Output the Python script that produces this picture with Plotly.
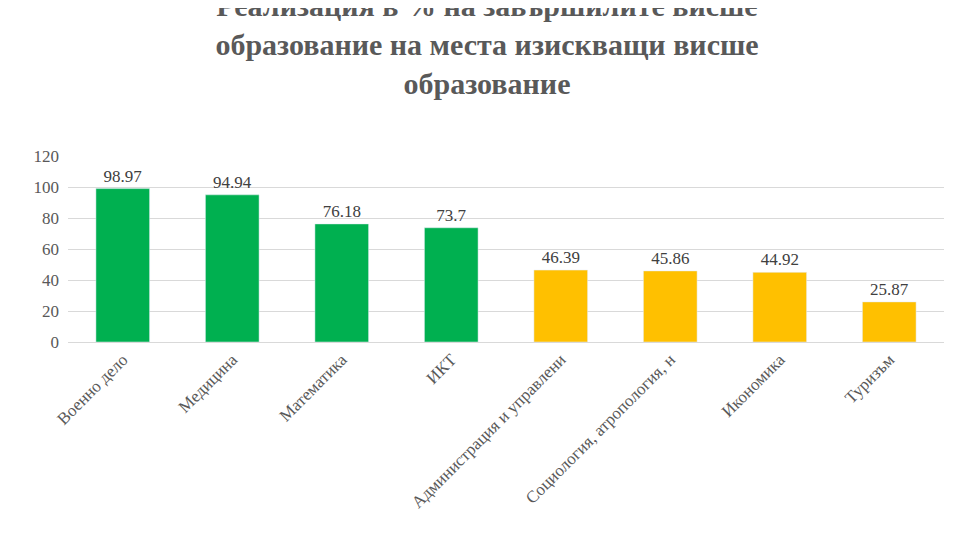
import plotly.graph_objects as go

categories = ["Военно дело", "Медицина", "Математика", "ИКТ",
              "Администрация и управлени", "Социология, атропология, н",
              "Икономика", "Туризъм"]
values = [98.97, 94.94, 76.18, 73.7, 46.39, 45.86, 44.92, 25.87]
labels = ["98.97", "94.94", "76.18", "73.7", "46.39", "45.86", "44.92", "25.87"]
colors = ["#00b050"] * 4 + ["#ffc000"] * 4

fig = go.Figure(go.Bar(x=categories, y=values, marker_color=colors, width=0.49,
                       text=labels, textposition="outside", cliponaxis=False,
                       textfont=dict(family="Liberation Serif", size=17, color="#404040")))
fig.update_layout(
    width=958, height=539, plot_bgcolor="white", paper_bgcolor="white",
    margin=dict(l=60, r=22, t=148, b=205),
    title=dict(text="Реализация в % на завършилите висше<br>образование на места изискващи висше<br>образование",
               x=0.5, xanchor="center", y=1, yanchor="top", pad=dict(t=8),
               font=dict(family="Liberation Serif", size=30, color="#595959", weight="bold")),
    font=dict(family="Liberation Serif", size=17, color="#595959"),
    yaxis=dict(range=[0, 120], dtick=20, gridcolor="#d9d9d9", showline=False, zeroline=False,
               ticks="", ticklabelstandoff=8),
    xaxis=dict(tickangle=-45, showline=True, linecolor="#d9d9d9", ticks=""),
    showlegend=False,
)
fig.write_html("out.html")
